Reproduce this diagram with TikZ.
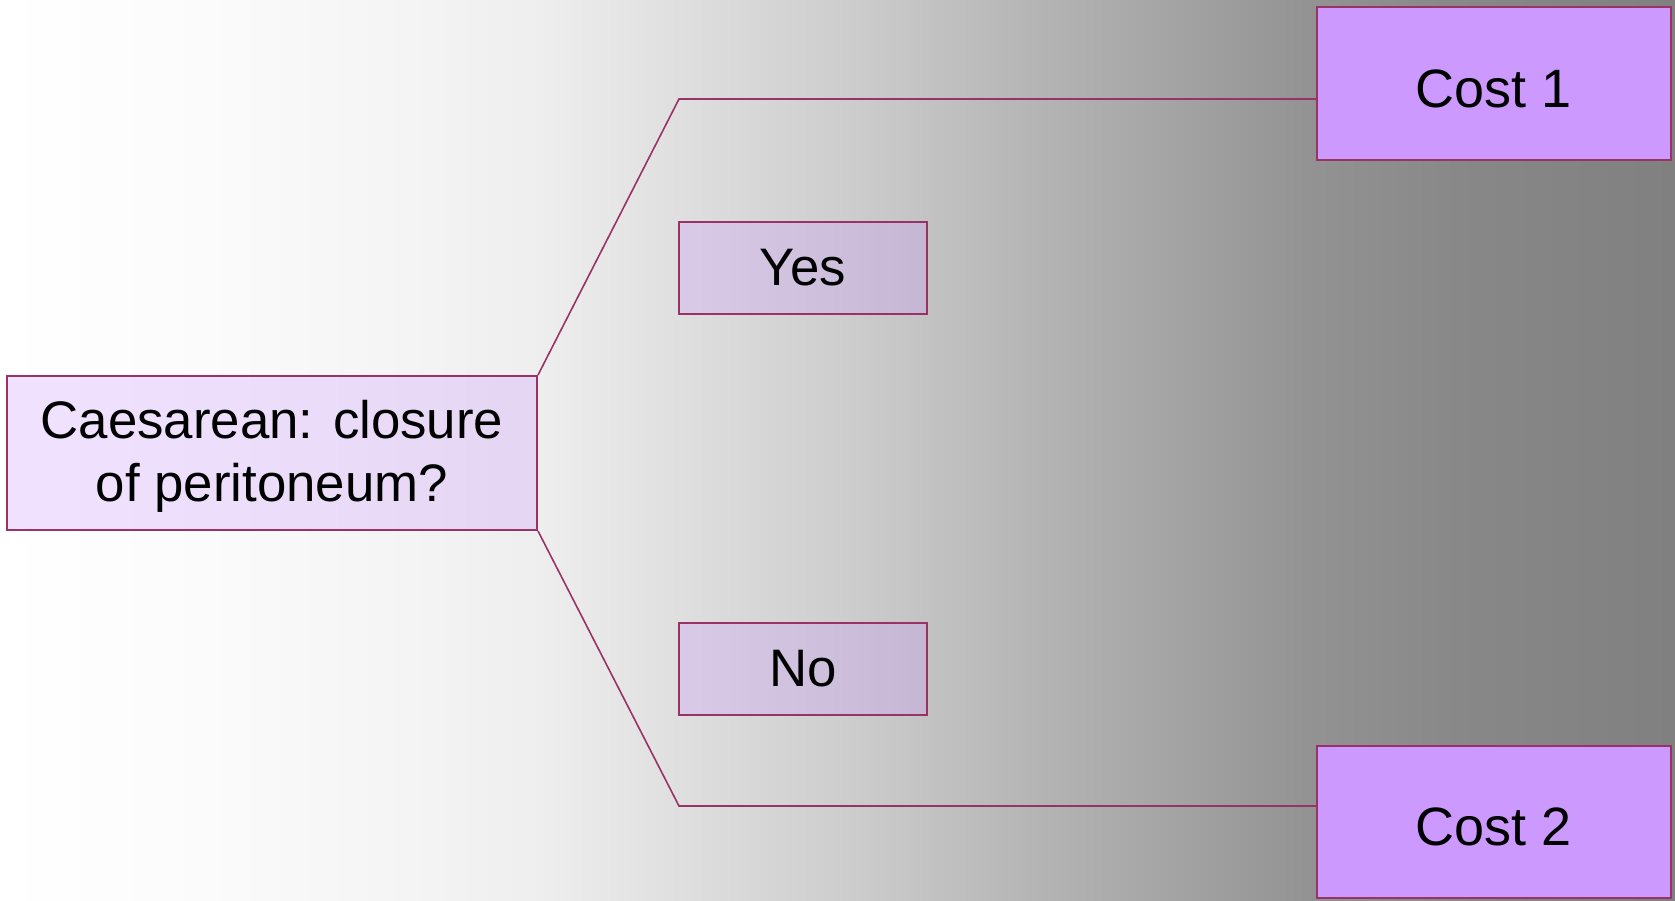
\documentclass[tikz,border=0pt]{standalone}
\usepackage{fontspec}
\setmainfont{Liberation Sans}
\pgfdeclarehorizontalshading{bgshade}{100bp}{rgb(0bp)=(1,1,1); rgb(25bp)=(1,1,1); rgb(31bp)=(.985,.985,.985); rgb(37bp)=(.958,.958,.958); rgb(41bp)=(.935,.935,.935); rgb(45bp)=(.878,.878,.878); rgb(50bp)=(.808,.808,.808); rgb(52bp)=(.776,.776,.776); rgb(55bp)=(.722,.722,.722); rgb(59.5bp)=(.651,.651,.651); rgb(64bp)=(.576,.576,.576); rgb(68.5bp)=(.533,.533,.533); rgb(75bp)=(.502,.502,.502); rgb(100bp)=(.502,.502,.502)}
\definecolor{edgec}{HTML}{993366}
\definecolor{lilac}{HTML}{CC99FF}
\tikzset{
  box/.style={draw=edgec, line width=1pt, rectangle, inner sep=0pt, align=center, text=black},
  softbox/.style={box, fill=lilac, fill opacity=0.28, text opacity=1, font=\fontsize{26.4}{31.5}\selectfont},
  costbox/.style={box, fill=lilac},
  costtext/.style={yshift=-2.6pt, inner sep=0pt, text=black, font=\fontsize{27}{32}\selectfont},
  maintext/.style={yshift=-1.5pt, inner sep=0pt, align=center, text=black, text opacity=1, fill opacity=1, font=\fontsize{26.4}{31.5}\selectfont},
  link/.style={draw=edgec, line width=0.8pt},
}
\begin{document}
\begin{tikzpicture}[x=0.5pt,y=-0.5pt]
\useasboundingbox (0,0) rectangle (1675,900);
\shade[shading=bgshade] (0,0) rectangle (1675,900);
\node[softbox, minimum width=265pt, minimum height=77pt, label={[maintext]center:Caesarean: closure\\of peritoneum?}] (main) at (272,453) {};
\node[softbox, minimum width=124pt, minimum height=46pt] (yes) at (803,268) {Yes};
\node[softbox, minimum width=124pt, minimum height=46pt] (no) at (803,669) {No};
\node[costbox, minimum width=177pt, minimum height=76.5pt, label={[costtext]center:Cost 1}] (cost1) at (1494,83.5) {};
\node[costbox, minimum width=177pt, minimum height=76pt, label={[costtext]center:Cost 2}] (cost2) at (1494,822) {};
\coordinate (k1) at (679,99);
\coordinate (k2) at (679,806);
\draw[link] (main.north east) -- (k1) -- (k1 -| cost1.west);
\draw[link] (main.south east) -- (k2) -- (k2 -| cost2.west);
\end{tikzpicture}
\end{document}
